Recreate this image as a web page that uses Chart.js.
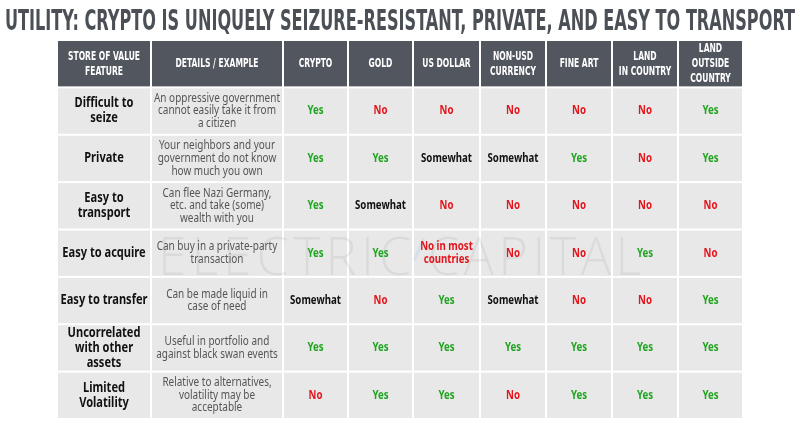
<!DOCTYPE html>
<html>
<head>
<meta charset="utf-8">
<script src="https://cdn.jsdelivr.net/npm/chart.js@4.4.0/dist/chart.umd.min.js"></script>
<style>
  html, body { margin: 0; padding: 0; background: #fff; }
  #wrap { width: 800px; height: 423px; position: relative; }
</style>
</head>
<body>
<div id="wrap"><canvas id="valueChart"></canvas></div>
<script>
// Table content
const title = 'UTILITY: CRYPTO IS UNIQUELY SEIZURE-RESISTANT, PRIVATE, AND EASY TO TRANSPORT';
const headers = [
  ['STORE OF VALUE', 'FEATURE'],
  ['DETAILS / EXAMPLE'],
  ['CRYPTO'],
  ['GOLD'],
  ['US DOLLAR'],
  ['NON-USD', 'CURRENCY'],
  ['FINE ART'],
  ['LAND', 'IN COUNTRY'],
  ['LAND', 'OUTSIDE', 'COUNTRY']
];
const features = [
  ['Difficult to', 'seize'],
  ['Private'],
  ['Easy to', 'transport'],
  ['Easy to acquire'],
  ['Easy to transfer'],
  ['Uncorrelated', 'with other', 'assets'],
  ['Limited', 'Volatility']
];
const details = [
  ['An oppressive government', 'cannot easily take it from', 'a citizen'],
  ['Your neighbors and your', 'government do not know', 'how much you own'],
  ['Can flee Nazi Germany,', 'etc. and take (some)', 'wealth with you'],
  ['Can buy in a private-party', 'transaction'],
  ['Can be made liquid in', 'case of need'],
  ['Useful in portfolio and', 'against black swan events'],
  ['Relative to alternatives,', 'volatility may be', 'acceptable']
];

// Answers per asset, one entry per feature row
const cryptoVals = ['Yes', 'Yes', 'Yes', 'Yes', 'Somewhat', 'Yes', 'No'];
const goldVals = ['No', 'Yes', 'Somewhat', 'Yes', 'No', 'Yes', 'Yes'];
const usDollarVals = ['No', 'Somewhat', 'No', 'No in most|countries', 'Yes', 'Yes', 'Yes'];
const nonUsdVals = ['No', 'Somewhat', 'No', 'No', 'Somewhat', 'Yes', 'No'];
const fineArtVals = ['No', 'Yes', 'No', 'No', 'No', 'Yes', 'Yes'];
const landInVals = ['No', 'No', 'No', 'Yes', 'No', 'Yes', 'Yes'];
const landOutVals = ['Yes', 'Yes', 'No', 'No', 'Yes', 'Yes', 'Yes'];
const assetColumns = [cryptoVals, goldVals, usDollarVals, nonUsdVals, fineArtVals, landInVals, landOutVals];

// Layout (column widths in x-scale units)
const colWidths = [94, 132, 65, 65, 67, 66, 66, 66, 65];
const colEdges = colWidths.reduce((acc, w) => { acc.push(acc[acc.length - 1] + w); return acc; }, [0]);
const rowCount = features.length + 1;

const answerColor = { 'Yes': '#1fa51f', 'Somewhat': '#111111' };
const titleFont = '"Liberation Sans Narrow", "DejaVu Sans Condensed", sans-serif';
const bodyFont = '"Noto Sans", "Open Sans", sans-serif';

// draw text squeezed horizontally
function squeeze(ctx, text, cx, cy, sx) {
  ctx.save();
  ctx.translate(cx, cy);
  ctx.scale(sx, 1);
  ctx.fillText(text, 0, 0);
  ctx.restore();
}

function lines(ctx, arr, cx, cy, lh, sx) {
  arr.forEach((t, i) => squeeze(ctx, t, cx, cy + (i - (arr.length - 1) / 2) * lh, sx));
}

const tablePlugin = {
  id: 'storeOfValueTable',
  afterDraw(chart) {
    const { ctx, scales: { x, y } } = chart;
    ctx.save();
    ctx.textAlign = 'center';
    ctx.textBaseline = 'middle';

    // title
    ctx.fillStyle = '#4b4f56';
    ctx.font = 'bold 28px ' + titleFont;
    const tSx = 790 / ctx.measureText(title).width;
    ctx.textBaseline = 'alphabetic';
    squeeze(ctx, title, 400, 30, tSx);
    ctx.textBaseline = 'middle';

    // cells
    for (let r = 0; r < rowCount; r++) {
      const y0 = y.getPixelForValue(r), y1 = y.getPixelForValue(r + 1);
      for (let c = 0; c < colWidths.length; c++) {
        const x0 = x.getPixelForValue(colEdges[c]), x1 = x.getPixelForValue(colEdges[c + 1]);
        ctx.fillStyle = r === 0 ? '#52565e' : '#e8e8e8';
        ctx.fillRect(x0 + 1, y0 + 1, x1 - x0 - 2, y1 - y0 - 2);
      }
    }

    // watermark
    ctx.save();
    ctx.fillStyle = 'rgba(0,0,0,0.06)';
    ctx.font = '300 54px "Open Sans", Lato, sans-serif';
    ctx.letterSpacing = '5px';
    ctx.textAlign = 'left';
    ctx.textBaseline = 'alphabetic';
    const wmY = y.getPixelForValue(4.95);
    let w = ctx.measureText('ELECTRIC').width;
    ctx.save(); ctx.translate(158, wmY); ctx.scale(258 / w, 1); ctx.fillText('ELECTRIC', 0, 0); ctx.restore();
    w = ctx.measureText('CAPITAL').width;
    ctx.save(); ctx.translate(428, wmY); ctx.scale(218 / w, 1); ctx.fillText('CAPITAL', 0, 0); ctx.restore();
    ctx.strokeStyle = 'rgba(90,170,230,0.14)';
    ctx.lineWidth = 3;
    ctx.beginPath();
    ctx.moveTo(424, wmY - 36);
    ctx.lineTo(414, wmY - 14);
    ctx.stroke();
    ctx.restore();

    // header texts
    ctx.fillStyle = '#ffffff';
    ctx.font = 'bold 13px ' + titleFont;
    const hSx = 83 / ctx.measureText('DETAILS / EXAMPLE').width;
    const hy = (y.getPixelForValue(0) + y.getPixelForValue(1)) / 2;
    headers.forEach((h, c) => {
      const cx = (x.getPixelForValue(colEdges[c]) + x.getPixelForValue(colEdges[c + 1])) / 2;
      lines(ctx, h, cx, hy, 15, hSx);
    });

    // body rows
    ctx.font = 'bold 13.5px ' + bodyFont;
    const fSx = 87 / ctx.measureText('Easy to transfer').width;
    ctx.font = '12px ' + bodyFont;
    const dSx = 126 / ctx.measureText('An oppressive government').width;
    ctx.font = 'bold 12px ' + bodyFont;
    const vSx = 51 / ctx.measureText('Somewhat').width;

    features.forEach((f, r) => {
      const cy = (y.getPixelForValue(r + 1) + y.getPixelForValue(r + 2)) / 2;
      const colCenter = c => (x.getPixelForValue(colEdges[c]) + x.getPixelForValue(colEdges[c + 1])) / 2;

      ctx.fillStyle = '#111111';
      ctx.font = 'bold 13.5px ' + bodyFont;
      lines(ctx, f, colCenter(0), cy, 15, fSx);

      ctx.fillStyle = '#555555';
      ctx.font = '12px ' + bodyFont;
      lines(ctx, details[r], colCenter(1), cy, 12.7, dSx);

      ctx.font = 'bold 12px ' + bodyFont;
      assetColumns.forEach((vals, a) => {
        const v = vals[r];
        ctx.fillStyle = answerColor[v] || '#e3141b';
        lines(ctx, v.split('|'), colCenter(a + 2), cy, 13, vSx);
      });
    });
    ctx.restore();
  }
};

new Chart(document.getElementById('valueChart').getContext('2d'), {
  type: 'scatter',
  data: { datasets: [] },
  options: {
    responsive: true,
    maintainAspectRatio: false,
    animation: false,
    layout: { padding: { left: 57, right: 57, top: 40, bottom: 4 } },
    plugins: {
      legend: { display: false },
      tooltip: { enabled: false },
      title: { display: false }
    },
    scales: {
      x: { type: 'linear', min: 0, max: colEdges[colEdges.length - 1], display: false },
      y: { type: 'linear', min: 0, max: rowCount, reverse: true, display: false }
    }
  },
  plugins: [tablePlugin]
});
</script>
</body>
</html>
